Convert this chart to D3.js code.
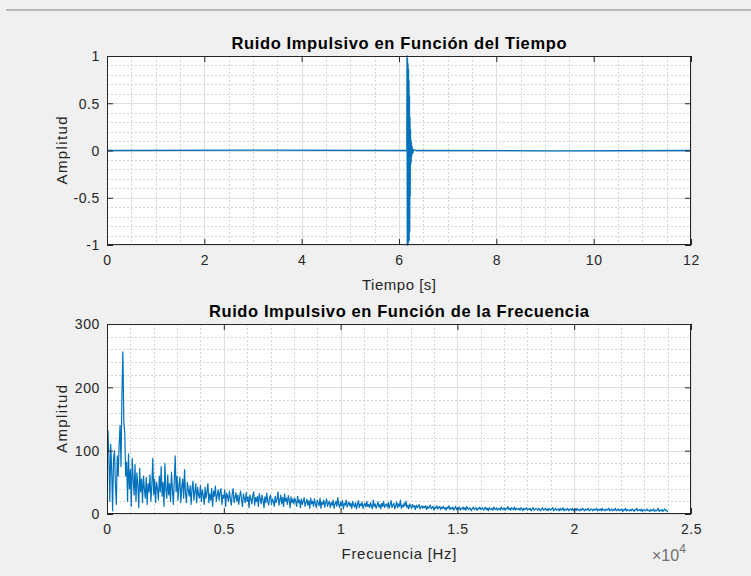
<!DOCTYPE html>
<html><head><meta charset="utf-8">
<script src="https://cdn.jsdelivr.net/npm/d3@7"></script>
<style>
html,body{margin:0;padding:0;background:#f0f0f0;}
svg{display:block;font-family:"Liberation Sans",Arial,Helvetica,sans-serif;}
</style></head><body>
<svg id="c" width="751" height="576"></svg>
<script>
// ---------- DATA ----------
const timeTicks = [0, 2, 4, 6, 8, 10, 12];
const ampTicksTop = [-1, -0.5, 0, 0.5, 1];
const freqTicks = [0, 0.5, 1, 1.5, 2, 2.5];           // x 10^4 Hz
const ampTicksBottom = [0, 100, 200, 300];

// time-domain impulse (s, amplitude)
const timeT = [0, 3.1, 6.16, 6.165, 6.17, 6.175, 6.18, 6.185, 6.19, 6.195, 6.2, 6.205, 6.21, 6.215, 6.22, 6.225, 6.23, 6.235, 6.24, 6.245, 6.25, 6.255, 6.26, 6.27, 6.28, 6.3, 6.35, 9.2, 12];
const timeY = [0, 0.004, 0, 1, -1, 0.97, -1, 0.92, -0.98, 0.86, -0.93, 0.74, -0.95, 0.58, -0.86, 0.35, -0.48, 0.22, -0.15, 0.11, -0.12, 0.08, -0.06, 0.04, -0.03, 0.01, 0, -0.003, 0];

// spectrum magnitude, one value every 40 Hz from 0 to 24000 Hz
const freqStepHz = 40;
const spectrum = [
 60,132,95,20,110,70,5,88,100,45,15,92,60,110,140,75,190,256,145,128,
 60,82,20,95,40,70,12,88,55,30,78,20,65,45,10,72,35,55,18,60,
 40,25,58,15,48,35,62,20,45,88,30,55,18,50,40,22,60,35,75,28,
 50,12,80,38,25,62,30,48,20,66,40,15,52,92,35,60,22,45,58,18,
 42,55,25,70,32,18,50,38,28,45,15,40,52,22,35,48,18,42,30,25,
 45,20,38,30,15,42,25,35,48,18,32,22,40,12,36,28,44,20,30,38,
 22,35,40,15,30,25,38,12,33,28,20,36,24,14,32,40,18,26,34,20,
 30,15,28,36,22,12,32,25,18,34,20,27,10,30,24,16,29,35,14,26,
 20,28,12,32,24,16,30,22,10,27,18,33,20,14,26,30,15,24,20,12,
 28,18,24,35,14,22,30,16,26,12,32,20,25,15,29,22,10,27,18,24,
 16,25,20,12,28,18,22,10,24,15,20,26,12,18,23,14,21,9,25,16,
 20,12,24,16,10,22,18,13,25,9,19,15,22,11,18,24,12,17,20,10,
 18,14,22,9,16,20,12,26,15,10,19,13,21,8,17,14,22,11,16,19,
 12,17,9,20,14,11,18,8,15,21,10,16,13,19,9,14,17,11,20,12,
 15,10,18,13,8,22,12,16,9,14,19,11,15,8,17,12,20,10,14,16,
 11,18,9,15,21,10,14,17,8,13,19,10,16,12,22,9,14,11,17,13,
 20,10,14,8,16,12,9,15,11,13,7,14,10,12,15,8,11,13,9,12,
 10,13,7,12,9,11,14,8,10,12,6,11,9,13,8,10,12,7,11,9,
 12,8,10,6,11,9,13,7,10,8,11,6,9,12,7,10,8,11,6,9,
 8,11,7,10,6,12,9,7,10,8,5,9,11,7,8,10,6,9,8,11,
 7,9,10,6,8,11,7,9,5,10,8,7,9,6,11,8,7,10,6,8,
 9,6,11,8,7,10,6,9,8,12,7,9,6,10,8,7,11,6,9,8,
 7,9,6,10,8,5,9,7,8,10,6,8,7,9,5,8,10,6,7,9,
 8,6,9,7,5,8,10,6,7,9,6,8,5,9,7,6,8,10,5,7,
 9,6,7,8,5,9,6,7,10,5,8,6,7,9,5,7,8,6,9,5,
 7,8,5,9,6,7,5,8,6,9,7,5,8,6,7,9,5,6,8,7,
 5,8,6,7,9,5,7,6,8,5,9,6,7,5,8,6,7,9,5,6,
 8,5,7,6,9,5,6,8,5,7,6,8,4,7,6,9,5,7,6,5,
 7,5,8,6,4,7,6,9,5,6,7,5,8,4,6,7,5,6,8,5,
 6,4,7,5,6,8,4,6,5,7,9,4,6,5,7,4,6,8,5,6,
 3
];

// ---------- DRAW ----------
const svg = d3.select("#c");
const TXT = "#262626";

svg.append("rect").attr("x",6).attr("y",9).attr("width",745).attr("height",2).attr("fill","#b9b9b9");

function panel(o){
  const g = svg.append("g");
  const x = d3.scaleLinear().domain(o.xd).range([o.x0,o.x1]);
  const y = d3.scaleLinear().domain(o.yd).range([o.y1,o.y0]);
  g.append("rect").attr("x",o.x0).attr("y",o.y0).attr("width",o.x1-o.x0).attr("height",o.y1-o.y0).attr("fill","#fff");
  const minorX = d3.range(o.xd[0], o.xd[1]+1e-9, o.xMinor).filter(v=>!o.xt.some(t=>Math.abs(t-v)<1e-9));
  const minorY = d3.range(o.yd[0], o.yd[1]+1e-9, o.yMinor).filter(v=>!o.yt.some(t=>Math.abs(t-v)<1e-9));
  g.selectAll(null).data(minorX).join("line")
   .attr("x1",d=>Math.round(x(d))+0.5).attr("x2",d=>Math.round(x(d))+0.5).attr("y1",o.y0).attr("y2",o.y1)
   .attr("stroke","#d2d2d2").attr("stroke-dasharray","2,2");
  g.selectAll(null).data(minorY).join("line")
   .attr("y1",d=>Math.round(y(d))+0.5).attr("y2",d=>Math.round(y(d))+0.5).attr("x1",o.x0).attr("x2",o.x1)
   .attr("stroke","#d2d2d2").attr("stroke-dasharray","2,2");
  g.selectAll(null).data(o.xt).join("line")
   .attr("x1",d=>Math.round(x(d))+0.5).attr("x2",d=>Math.round(x(d))+0.5).attr("y1",o.y0).attr("y2",o.y1)
   .attr("stroke","#dedede");
  g.selectAll(null).data(o.yt).join("line")
   .attr("y1",d=>Math.round(y(d))+0.5).attr("y2",d=>Math.round(y(d))+0.5).attr("x1",o.x0).attr("x2",o.x1)
   .attr("stroke","#dedede");
  const clip = "clip"+o.id;
  svg.append("clipPath").attr("id",clip).append("rect").attr("x",o.x0).attr("y",o.y0-1).attr("width",o.x1-o.x0).attr("height",o.y1-o.y0+2);
  g.append("path").datum(o.data).attr("clip-path","url(#"+clip+")")
   .attr("d", d3.line().x(d=>x(d[0])).y(d=>y(d[1])))
   .attr("fill","none").attr("stroke","#0072BD").attr("stroke-width",o.lw).attr("stroke-linejoin","round");
  const tl = 6;
  const ax = [
    [d3.axisBottom(x).tickValues(o.xt).tickSize(-tl).tickFormat(o.xf), `translate(0,${o.y1})`],
    [d3.axisTop(x).tickValues(o.xt).tickSize(-tl).tickFormat(""), `translate(0,${o.y0})`],
    [d3.axisLeft(y).tickValues(o.yt).tickSize(-tl).tickFormat(o.yf), `translate(${o.x0},0)`],
    [d3.axisRight(y).tickValues(o.yt).tickSize(-tl).tickFormat(""), `translate(${o.x1},0)`]
  ];
  ax.forEach(([a,tr],i)=>{
    const s = g.append("g").attr("transform",tr).call(a.tickPadding(0));
    s.select(".domain").remove();
    s.selectAll(".tick line").attr("stroke","#262626");
    s.selectAll(".tick text").attr("fill",TXT).attr("font-size","14px").style("letter-spacing","0.6px");
    if(i===0) s.selectAll(".tick text").attr("dy",null).attr("y",20);
    if(i===2) s.selectAll(".tick text").attr("x",-7).attr("dy","0.35em");
  });
  g.append("rect").attr("x",o.x0+0.5).attr("y",o.y0+0.5).attr("width",o.x1-o.x0-1).attr("height",o.y1-o.y0-1)
   .attr("fill","none").attr("stroke","#262626");
  g.append("text").attr("x",(o.x0+o.x1)/2).attr("y",o.y0-7).attr("text-anchor","middle")
   .attr("font-size","16.5px").attr("font-weight","bold").attr("fill","#000")
   .attr("textLength",o.titleLen).attr("lengthAdjust","spacing").text(o.title);
  g.append("text").attr("x",(o.x0+o.x1)/2).attr("y",o.y1+45).attr("text-anchor","middle")
   .attr("font-size","15px").attr("fill",TXT)
   .attr("textLength",o.xlabLen).attr("lengthAdjust","spacing").text(o.xlab);
  g.append("text").attr("transform",`translate(67,${(o.y0+o.y1)/2}) rotate(-90)`).attr("text-anchor","middle")
   .attr("font-size","15px").attr("fill",TXT)
   .attr("textLength",68).attr("lengthAdjust","spacing").text("Amplitud");
  return {x,y,g};
}

const fmt = d => String(d);

panel({id:"a", x0:107,x1:691,y0:56,y1:245, xd:[0,12], yd:[-1,1], xt:timeTicks, yt:ampTicksTop,
  xMinor:0.5, yMinor:0.1, xf:fmt, yf:fmt, lw:1.3,
  data: timeT.map((t,i)=>[t,timeY[i]]),
  title:"Ruido Impulsivo en Función del Tiempo", titleLen:335, xlab:"Tiempo [s]", xlabLen:74});

panel({id:"b", x0:107,x1:691,y0:324,y1:514, xd:[0,2.5], yd:[0,300], xt:freqTicks, yt:ampTicksBottom,
  xMinor:0.1, yMinor:20, xf:fmt, yf:fmt, lw:1.2,
  data: spectrum.map((v,i)=>[i*freqStepHz/1e4, v]),
  title:"Ruido Impulsivo en Función de la Frecuencia", titleLen:380, xlab:"Frecuencia [Hz]", xlabLen:115});

const ex = svg.append("text").attr("x",652).attr("y",561).attr("font-size","16px").attr("fill","#707070");
ex.append("tspan").text("\u00d710");
ex.append("tspan").attr("dy",-8).attr("font-size","12px").text("4");
</script></body></html>
